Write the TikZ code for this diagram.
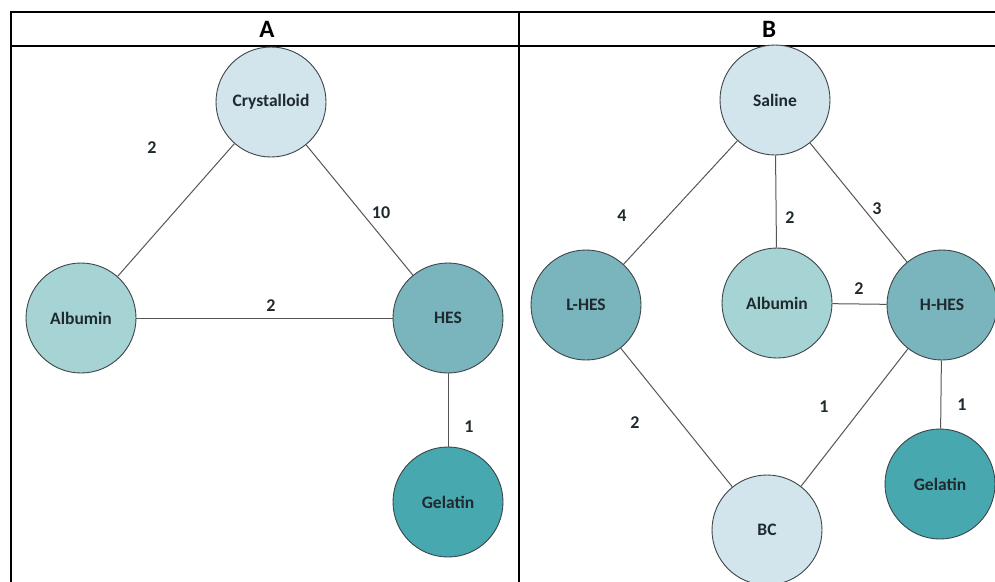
\documentclass[tikz,border=0pt]{standalone}
\usepackage{fontspec}
\setmainfont{Carlito}
\definecolor{palefill}{HTML}{D2E5EC}
\definecolor{albfill}{HTML}{A6D3D4}
\definecolor{hesfill}{HTML}{7AB5BE}
\definecolor{gelfill}{HTML}{47A8AF}
\definecolor{circline}{HTML}{3C4448}
\definecolor{linkgray}{HTML}{555555}
\definecolor{labeltext}{HTML}{1F2A2E}

\begin{document}
\begin{tikzpicture}[x=1pt, y=-1pt,
    drug/.style={circle, draw=circline, line width=0.9pt, minimum size=110pt,
                 inner sep=0pt, text=labeltext,
                 font=\fontsize{17.5}{19}\selectfont\bfseries},
    link/.style={draw=linkgray, line width=1pt},
    weight/.style={text=labeltext, font=\fontsize{18}{20}\selectfont\bfseries},
    head/.style={font=\fontsize{25}{27}\selectfont\bfseries}]
    \useasboundingbox (0,0) rectangle (995,581);
    \clip (0,0) rectangle (995,581);

    % Table frame
    \draw[line width=1.6pt] (11,12) -- (1000,12);
    \draw[line width=1.1pt] (11,46) -- (1000,46);
    \draw[line width=2pt] (11,11) -- (11,590);
    \draw[line width=1.4pt] (519,12) -- (519,590);
    \node[head] (headA) at (267,29) {A};
    \node[head] (headB) at (769,29) {B};

    % Panel A
    \node[drug, fill=palefill] (cryst) at (271,102) {Crystalloid};
    \node[drug, fill=albfill] (albA) at (81,318) {Albumin};
    \node[drug, fill=hesfill] (hes) at (448,318) {HES};
    \node[drug, fill=gelfill] (gelA) at (448,502) {Gelatin};

    \draw[link] (cryst) -- (albA);
    \draw[link] (cryst) -- (hes);
    \draw[link] (albA) -- (hes);
    \draw[link] (hes) -- (gelA);

    \node[weight] at (152,148) {2};
    \node[weight] at (381,213) {10};
    \node[weight] at (271,306) {2};
    \node[weight] at (469,427) {1};

    % Panel B
    \node[drug, fill=palefill] (saline) at (775,100) {Saline};
    \node[drug, fill=hesfill] (lhes) at (586,305) {L-HES};
    \node[drug, fill=albfill] (albB) at (777,303) {Albumin};
    \node[drug, fill=hesfill] (hhes) at (942,305) {H-HES};
    \node[drug, fill=palefill] (bc) at (767,530) {BC};
    \node[drug, fill=gelfill] (gelB) at (940,484) {Gelatin};

    \draw[link] (saline) -- (lhes);
    \draw[link] (saline) -- (albB);
    \draw[link] (saline) -- (hhes);
    \draw[link] (albB) -- (hhes);
    \draw[link] (lhes) -- (bc);
    \draw[link] (hhes) -- (bc);
    \draw[link] (hhes) -- (gelB);

    \node[weight] at (622,216) {4};
    \node[weight] at (790,218) {2};
    \node[weight] at (877,209) {3};
    \node[weight] at (859,289) {2};
    \node[weight] at (635,423) {2};
    \node[weight] at (824,407) {1};
    \node[weight] at (962,405) {1};
\end{tikzpicture}
\end{document}
